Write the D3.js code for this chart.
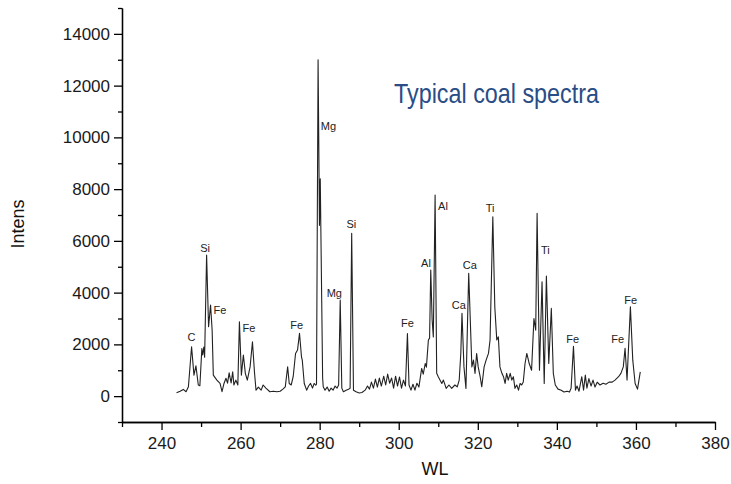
<!DOCTYPE html>
<html>
<head>
<meta charset="utf-8">
<script src="https://cdn.jsdelivr.net/npm/d3@7/dist/d3.min.js"></script>
<style>
  html, body { margin: 0; padding: 0; background: #fff; }
  svg { display: block; }
  .axis path, .axis line { stroke: #000; stroke-width: 1.3; }
  .axis text { font-family: 'Liberation Sans', Arial, sans-serif; font-size: 17px; fill: #1a1a1a; }
  .peak-label { font-family: 'Liberation Sans', Arial, sans-serif; font-size: 11px; fill: #222; }
</style>
</head>
<body>
<div id="chart"></div>
<script>
// spectrum
const wavelengths = [
  243.8, 244.7, 245.5, 246.2, 246.8, 247.6, 248.2, 248.7, 249.3, 249.7,
  250.2, 250.4, 250.7, 250.9, 251.4, 251.9, 252.4, 252.8, 253.1, 254.0,
  254.8, 255.3, 255.8, 256.3, 256.7, 257.1, 257.6, 258.0, 258.3, 258.8,
  259.3, 259.7, 260.2, 260.7, 261.2, 261.7, 262.4, 263.0, 263.5, 263.9,
  264.5, 265.2, 265.7, 266.4, 267.4, 268.3, 269.2, 270.0, 270.7, 271.3,
  271.9, 272.3, 272.8, 273.3, 273.9, 274.4, 274.9, 275.4, 275.6, 276.1,
  276.7, 277.2, 277.7, 278.2, 278.6, 279.0, 279.2, 279.6, 279.95, 280.15,
  280.75, 280.9, 281.35, 281.9, 282.4, 282.9, 283.4, 283.9, 284.4, 284.8,
  285.2, 285.6, 286.0, 286.7, 287.3, 287.7, 288.1, 288.55, 289.2, 290.0,
  290.7, 291.5, 292.1, 292.6, 293.1, 293.6, 294.1, 294.6, 295.1, 295.6,
  296.2, 296.7, 297.2, 297.7, 298.2, 298.7, 299.2, 299.7, 300.2, 300.7,
  301.2, 301.7, 302.2, 302.6, 303.1, 303.6, 304.1, 304.6, 305.1, 305.8,
  306.2, 306.7, 307.0, 307.5, 307.8, 308.1, 308.45, 308.75, 309.2, 309.6,
  310.0, 310.9, 311.3, 312.0, 312.7, 313.4, 314.2, 314.8, 315.3, 315.7,
  316.0, 316.5, 317.0, 317.7, 318.5, 318.9, 319.3, 319.7, 320.1, 320.6,
  321.0, 321.6, 322.1, 322.7, 323.1, 323.8, 324.3, 324.8, 325.2, 325.6,
  326.1, 326.5, 326.9, 327.3, 327.7, 328.2, 328.6, 329.0, 329.4, 329.85,
  330.3, 330.7, 331.1, 331.5, 331.95, 332.4, 332.8, 333.0, 333.6, 334.2,
  334.65, 335.0, 335.6, 336.25, 336.8, 337.35, 337.95, 338.6, 339.1, 339.6,
  340.3, 341.1, 341.8, 342.6, 343.2, 343.6, 344.2, 344.7, 345.1, 345.6,
  346.3, 346.75, 347.2, 347.6, 348.1, 348.65, 349.15, 349.65, 350.2, 350.9,
  351.7, 352.4, 353.2, 354.0, 354.7, 355.6, 356.2, 356.8, 357.25, 357.75,
  358.6, 359.2, 359.8, 360.4, 361.1
];
const intensities = [
  130, 190, 260, 170, 360, 1910, 810, 1170, 430, 400,
  1840, 1590, 1900, 1500, 5450, 2680, 3520, 2550, 810, 620,
  490, 170, 490, 690, 500, 900, 510, 940, 430, 620,
  430, 2870, 810, 1590, 880, 620, 1130, 2100, 940, 230,
  350, 230, 430, 310, 170, 190, 170, 190, 270, 360,
  1130, 490, 430, 750, 1650, 1780, 2430, 1520, 1390, 490,
  230, 390, 490, 310, 490, 420, 460, 13000, 6600, 8400,
  700, 360, 230, 350, 190, 310, 230, 390, 310, 430,
  3710, 310, 170, 230, 270, 300, 6290, 230, 170, 120,
  140, 230, 390, 270, 540, 310, 660, 350, 700, 390,
  770, 430, 850, 500, 700, 310, 770, 390, 740, 310,
  620, 390, 2420, 430, 230, 460, 230, 500, 350, 1070,
  850, 1260, 1120, 2170, 2240, 4870, 2940, 2290, 7770, 880,
  750, 490, 620, 300, 430, 300, 430, 360, 620, 1650,
  3200, 1130, 300, 4750, 1130, 1390, 880, 1650, 1130, 750,
  360, 1130, 1390, 1650, 2170, 6930, 3450, 2170, 2290, 1130,
  880, 750, 490, 880, 620, 880, 620, 750, 300, 430,
  230, 490, 430, 550, 1260, 1650, 1390, 1260, 1000, 3000,
  2550, 7070, 1000, 4420, 490, 4640, 1260, 3390, 880, 430,
  270, 230, 160, 190, 160, 310, 1930, 230, 390, 190,
  750, 230, 810, 310, 680, 390, 620, 350, 540, 430,
  500, 460, 540, 540, 620, 750, 880, 1130, 1850, 620,
  3450, 1390, 490, 270, 940
];

// element labels (text centre, in data units)
const labelNames = ['C', 'Si', 'Fe', 'Fe', 'Fe', 'Mg', 'Mg', 'Si', 'Fe', 'Al', 'Al', 'Ca', 'Ca', 'Ti', 'Ti', 'Fe', 'Fe', 'Fe'];
const labelWL    = [247.6, 251.0, 254.8, 262.1, 274.2, 282.2, 283.7, 288.0, 302.2, 306.9, 311.2, 315.2, 318.0, 323.1, 337.1, 344.0, 355.4, 358.7];
const labelInt   = [2270, 5720, 3330, 2610, 2750, 10440, 3980, 6650, 2810, 5120, 7350, 3530, 5070, 7260, 5650, 2190, 2190, 3710];

const xMajor = [240, 260, 280, 300, 320, 340, 360, 380];
const xMinor = [230, 250, 270, 290, 310, 330, 350, 370];
const yMajor = [0, 2000, 4000, 6000, 8000, 10000, 12000, 14000];
const yMinor = [-1000, 1000, 3000, 5000, 7000, 9000, 11000, 13000, 15000];

const width = 731, height = 484;

const svg = d3.select('#chart').append('svg')
  .attr('width', width)
  .attr('height', height);

const x = d3.scaleLinear().domain([230, 380]).range([122, 715]);
const y = d3.scaleLinear().domain([-1000, 15000]).range([422, 8]);

// axes: minor ticks first, then major with labels
svg.append('g').attr('class', 'axis')
  .attr('transform', 'translate(0,' + y(-1000) + ')')
  .call(d3.axisBottom(x).tickValues(xMinor).tickSize(5).tickSizeOuter(0).tickFormat(''));
svg.append('g').attr('class', 'axis')
  .attr('transform', 'translate(0,' + y(-1000) + ')')
  .call(d3.axisBottom(x).tickValues(xMajor).tickSize(8).tickSizeOuter(0).tickPadding(7).tickFormat(d3.format('d')));

svg.append('g').attr('class', 'axis')
  .attr('transform', 'translate(' + x(230) + ',0)')
  .call(d3.axisLeft(y).tickValues(yMinor).tickSize(4).tickSizeOuter(0).tickFormat(''));
svg.append('g').attr('class', 'axis')
  .attr('transform', 'translate(' + x(230) + ',0)')
  .call(d3.axisLeft(y).tickValues(yMajor).tickSize(8).tickSizeOuter(0).tickPadding(4).tickFormat(d3.format('d')));

// spectrum
const pts = wavelengths.map(function (w, i) { return [w, intensities[i]]; });
const line = d3.line()
  .x(function (d) { return x(d[0]); })
  .y(function (d) { return y(d[1]); });

svg.append('path')
  .datum(pts)
  .attr('d', line)
  .attr('fill', 'none')
  .attr('stroke', '#222')
  .attr('stroke-width', 1.1)
  .attr('stroke-linejoin', 'round');

// peak labels
svg.append('g')
  .selectAll('text')
  .data(labelNames)
  .join('text')
  .attr('class', 'peak-label')
  .attr('x', function (d, i) { return x(labelWL[i]); })
  .attr('y', function (d, i) { return y(labelInt[i]); })
  .attr('dy', '0.35em')
  .attr('text-anchor', 'middle')
  .text(function (d) { return d; });

// axis titles
svg.append('text')
  .attr('transform', 'translate(24,224) rotate(-90)')
  .attr('text-anchor', 'middle')
  .style('font-family', "'Liberation Sans', Arial, sans-serif")
  .style('font-size', '18px')
  .style('fill', '#111')
  .text('Intens');

svg.append('text')
  .attr('x', 435)
  .attr('y', 475)
  .attr('text-anchor', 'middle')
  .style('font-family', "'Liberation Sans', Arial, sans-serif")
  .style('font-size', '18px')
  .style('fill', '#111')
  .text('WL');

// title
svg.append('text')
  .attr('x', 394)
  .attr('y', 103)
  .attr('textLength', 205)
  .attr('lengthAdjust', 'spacingAndGlyphs')
  .style('font-family', "'Liberation Sans Narrow', 'Arial Narrow', 'Liberation Sans', Arial, sans-serif")
  .style('font-size', '28px')
  .style('fill', '#2a4d86')
  .text('Typical coal spectra');
</script>
</body>
</html>
